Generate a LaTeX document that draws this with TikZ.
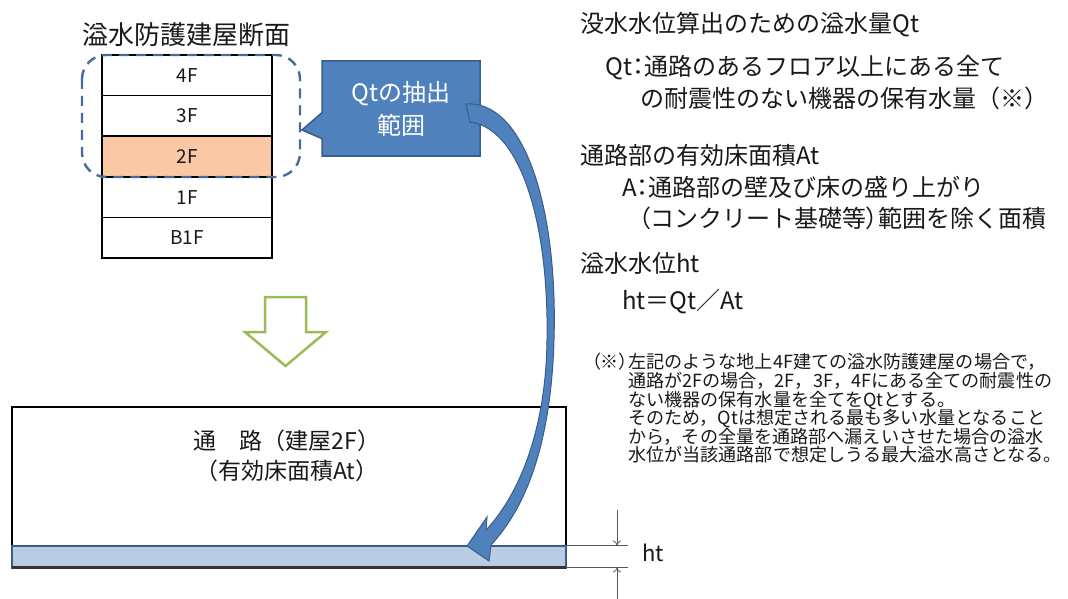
\documentclass[tikz,border=0pt]{standalone}
\usepackage{fontspec}
\setmainfont{Noto Sans CJK JP}
\newfontfamily\propfont{Noto Sans CJK JP}[RawFeature=+palt]
\usetikzlibrary{positioning, shapes.callouts, arrows.meta}
\definecolor{dashblue}{RGB}{74,106,156}
\definecolor{boxblue}{RGB}{79,129,189}
\definecolor{edgeblue}{RGB}{56,93,138}
\definecolor{waterblue}{RGB}{184,204,228}
\definecolor{peach}{RGB}{250,200,165}
\definecolor{leaf}{RGB}{155,187,89}
\definecolor{ink}{RGB}{25,25,25}
\newcommand{\storey}[4]{
    % #1: name
    % #2: y
    % #3: label
    % #4: fill
    \node[floor, fill=#4] (#1) at (187,#2) {#3};
}
\newcommand{\nr}[1]{{\propfont #1}}

\begin{document}
\begin{tikzpicture}[x=1pt, y=-1pt, every node/.append style={text=ink}]
    % one storey of the building
    \tikzstyle{floor}=[draw=black, line width=1.6, minimum width=170, minimum height=40.6, inner sep=0, outer sep=0, font=\fontsize{19}{22}\selectfont]
    % lines of explanation
    \tikzstyle{rtext}=[anchor=west, inner sep=0, font=\fontsize{24}{28}\selectfont]
    \tikzstyle{note}=[anchor=west, inner sep=0, align=left, font=\fontsize{18.1}{18.6}\selectfont]
    \tikzstyle{dim}=[draw=black!65, line width=0.8]
    \useasboundingbox (0,0) rectangle (1068,599);
    % building section
    \node[font=\fontsize{26}{30}\selectfont, inner sep=0] (title) at (186,35) {溢水防護建屋断面};
    \storey{f4}{75.3}{4F}{white}
    \storey{f3}{115.9}{3F}{white}
    \storey{f2}{156.5}{2F}{peach}
    \storey{f1}{197.1}{1F}{white}
    \storey{fb1}{237.7}{B1F}{white}
    \draw[dashblue, line width=2.4, dash pattern=on 10 off 7, rounded corners=24] (82,55) rectangle (300,177);
    % callout
    \node[rectangle callout, fill=boxblue, draw=edgeblue, line width=1.5, minimum width=158, minimum height=95,
          callout absolute pointer={(302,130)}, callout pointer width=26, align=center,
          font=\fontsize{24}{33}\selectfont, text=white] (callout) at (401,108.5) {Qtの抽出\\範囲};
    % down arrow
    \draw[leaf, line width=2.5, fill=white, line join=miter] (265,297) -- (306,297) -- (306,332) -- (326,332)
        -- (285.5,366) -- (245,332) -- (265,332) -- cycle;
    % passage
    \node[draw=black, line width=2, minimum width=554, minimum height=161, inner sep=0, outer sep=0] (aisle) at (289,487.5) {};
    \node[align=center, inner sep=0, font=\fontsize{23}{30}\selectfont] (aislelbl) at (287,456) {通　路（建屋2F）\\（有効床面積At）};
    \node[draw=edgeblue, fill=waterblue, line width=2, minimum width=554, minimum height=22, inner sep=0, outer sep=0] (water) at (289,556.5) {};
    \draw[black!80, line width=2.2] (water.south west) -- (water.south east);
    % curved arrow from callout to water
    \fill[boxblue, draw=edgeblue, line width=1] (466,104) .. controls (525,100) and (558,210) .. (554,340)
        .. controls (551,440) and (528,505) .. (491,545) -- (489,561) -- (467,546) -- (487,517) -- (486,530)
        .. controls (519,495) and (546,430) .. (547,340) .. controls (549,222) and (520,128) .. (470,122) -- cycle;
    % height of water
    \coordinate (httop) at (617,510);
    \coordinate (htbot) at (617,599);
    \draw[dim] (water.north east) -- ++(62,0);
    \draw[dim] (water.south east) -- ++(62,0);
    \draw[dim, -{To[length=5, width=8]}] (httop) -- (httop |- water.north);
    \draw[dim, -{To[length=5, width=8]}] (htbot) -- (htbot |- water.south);
    \node[font=\fontsize{22}{26}\selectfont, inner sep=0, anchor=west] (ht) at (642,553) {ht};
    % explanation
    \node[rtext] (qt) at (580,25) {没水水位算出のための溢水量Qt};
    \node[rtext] (qtdef) at (605,68) {Qt\nr{：}通路のあるフロア以上にある全て};
    \node[rtext] (qtdef2) at (640,98) {の耐震性のない機器の保有水量（※）};
    \node[rtext] (at) at (580,155) {通路部の有効床面積At};
    \node[rtext] (atdef) at (622,187) {A\nr{：}通路部の壁及び床の盛り上がり};
    \node[rtext] (atdef2) at (638,218) {\nr{（}コンクリート基礎等\nr{）}範囲を除く面積};
    \node[rtext] (hw) at (580,263) {溢水水位ht};
    \node[rtext] (eq) at (622,302) {ht＝Qt／At};
    % note
    \node[note, anchor=east, font=\propfont\fontsize{18.1}{18.6}\selectfont] (mark) at (628,362) {（※）};
    \node[note] (notetext) at (628,408.5) {左記のような地上4F建ての溢水防護建屋の場合で，\\
        通路が2Fの場合，2F，3F，4Fにある全ての耐震性の\\
        ない機器の保有水量を全てをQtとする。\\
        そのため，Qtは想定される最も多い水量となること\\
        から，その全量を通路部へ漏えいさせた場合の溢水\\
        水位が当該通路部で想定しうる最大溢水高さとなる。};
\end{tikzpicture}
\end{document}
